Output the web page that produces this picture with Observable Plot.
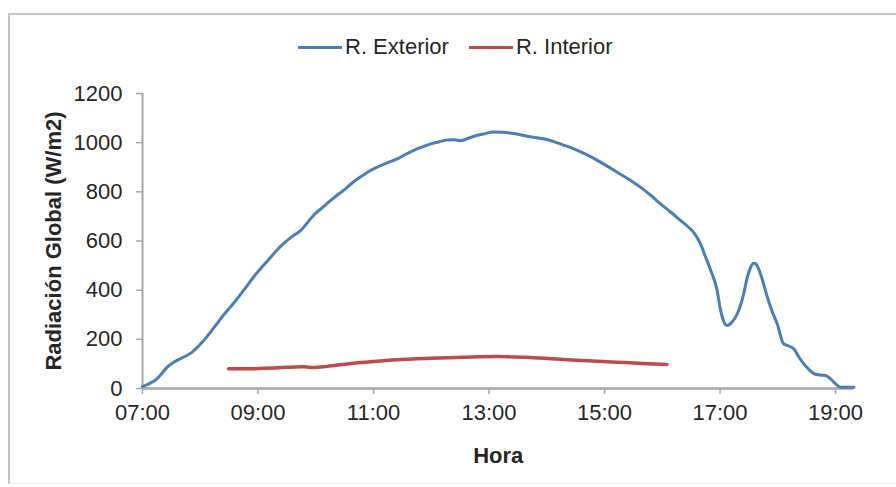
<!DOCTYPE html>
<html>
<head>
<meta charset="utf-8">
<script src="https://cdn.jsdelivr.net/npm/d3@7"></script>
<script src="https://cdn.jsdelivr.net/npm/@observablehq/plot@0.6"></script>
<style>
  html, body { margin: 0; padding: 0; background: #fff; overflow: hidden; }
  #wrap { position: relative; width: 896px; height: 487px; font-family: "Liberation Sans", Arial, sans-serif; }
  #frame { position: absolute; left: 8px; top: 13px; width: 900px; height: 468px;
           border-top: 2px solid #c4c4c4; border-left: 2px solid #c4c4c4; border-bottom: 1px solid #eeeeee; }
  #chart { position: absolute; left: 0; top: 0; }
  #legend { position: absolute; top: 34px; left: 298px; display: flex; align-items: center;
            font-size: 22px; color: #262626; white-space: nowrap; }
  .item { display: flex; align-items: center; margin-right: 20px; }
  .sw { width: 44px; height: 3px; margin-right: 3px; }
</style>
</head>
<body>
<div id="wrap">
  <div id="frame"></div>
  <div id="chart"></div>
  <div id="legend"></div>
</div>
<script>
// Series names and colours
const seriesNames = ["R. Exterior", "R. Interior"];
const seriesColors = ["#4a7ebb", "#be4b48"];

// R. Exterior: hour of day (decimal) and global radiation (W/m2)
const exteriorHora = [7.00,7.12,7.23,7.33,7.43,7.55,7.66,7.76,7.86,7.96,8.06,8.18,8.29,8.40,8.52,8.63,8.75,8.87,8.99,9.10,9.22,9.33,9.44,9.59,9.74,9.85,9.96,10.11,10.26,10.37,10.48,10.62,10.77,10.91,11.06,11.24,11.41,11.55,11.69,11.84,11.99,12.14,12.28,12.40,12.51,12.62,12.73,12.90,13.08,13.25,13.42,13.72,14.06,14.26,14.46,14.70,14.93,15.22,15.42,15.62,15.80,15.97,16.15,16.32,16.45,16.54,16.66,16.75,16.84,16.95,17.00,17.04,17.12,17.20,17.30,17.41,17.47,17.53,17.58,17.62,17.70,17.82,17.90,17.99,18.10,18.20,18.28,18.36,18.45,18.55,18.63,18.73,18.83,18.90,18.97,19.09,19.32];
const exteriorRad  = [8,20,35,60,87,108,122,133,148,170,195,230,264,298,331,362,399,437,473,502,534,563,589,618,643,673,704,735,765,786,806,834,860,882,900,918,934,952,968,982,995,1004,1011,1012,1008,1016,1025,1035,1043,1042,1037,1024,1009,993,976,950,921,880,851,819,786,751,717,683,657,636,589,535,480,399,330,290,256,268,304,385,450,493,510,507,467,371,315,263,182,172,161,130,100,75,60,55,53,42,26,5,5];

// R. Interior
const interiorHora = [8.49,8.80,9.10,9.50,9.80,9.96,10.20,10.54,11.00,11.40,12.00,12.56,13.14,13.72,14.35,14.80,15.22,15.65,16.08];
const interiorRad  = [80,80,82,86,88,85,90,100,110,117,123,127,130,126,117,112,107,102,98];

// Axis ticks
const xTickValues = [7, 9, 11, 13, 15, 17, 19];
const xTickLabels = ["07:00", "09:00", "11:00", "13:00", "15:00", "17:00", "19:00"];
const yTickValues = [0, 200, 400, 600, 800, 1000, 1200];

const exterior = exteriorHora.map((h, i) => ({hora: h, rad: exteriorRad[i], serie: seriesNames[0]}));
const interior = interiorHora.map((h, i) => ({hora: h, rad: interiorRad[i], serie: seriesNames[1]}));

const chart = Plot.plot({
  width: 896,
  height: 487,
  marginLeft: 142,
  marginRight: 42.5,
  marginTop: 93,
  marginBottom: 99,
  style: {fontFamily: "'Liberation Sans', Arial, sans-serif", fontSize: "22px", color: "#262626", background: "transparent"},
  x: {domain: [7, 19.32]},
  y: {domain: [0, 1200]},
  marks: [
    Plot.axisY({ticks: yTickValues, tickFormat: (d) => String(d), tickSize: 6, tickPadding: 14, label: null, stroke: "#a6a6a6", strokeWidth: 1.5, fill: "#262626"}),
    Plot.axisX({ticks: xTickValues, tickFormat: (d) => xTickLabels[xTickValues.indexOf(d)], tickSize: 6, tickPadding: 10, label: null, stroke: "#a6a6a6", strokeWidth: 1.5, fill: "#262626"}),
    Plot.ruleY([0], {stroke: "#a6a6a6", strokeWidth: 2.5}),
    Plot.ruleX([7], {stroke: "#a6a6a6", strokeWidth: 2}),
    Plot.line(exterior, {x: "hora", y: "rad", stroke: seriesColors[0], strokeWidth: 3, curve: "monotone-x"}),
    Plot.line(interior, {x: "hora", y: "rad", stroke: seriesColors[1], strokeWidth: 3.5, curve: "monotone-x"}),
    Plot.text(["Hora"], {frameAnchor: "bottom", dy: 67, lineAnchor: "middle", textAnchor: "middle", fontWeight: "bold", fontSize: 22, fill: "#262626"}),
    Plot.text(["Radiación Global (W/m2)"], {frameAnchor: "left", dx: -89, rotate: -90, lineAnchor: "middle", textAnchor: "middle", fontWeight: "bold", fontSize: 22, fill: "#262626"})
  ]
});
document.getElementById("chart").appendChild(chart);

const legend = document.getElementById("legend");
seriesNames.forEach((name, i) => {
  const item = document.createElement("div");
  item.className = "item";
  const sw = document.createElement("div");
  sw.className = "sw";
  sw.style.background = seriesColors[i];
  const label = document.createElement("span");
  label.textContent = name;
  item.appendChild(sw);
  item.appendChild(label);
  legend.appendChild(item);
});
</script>
</body>
</html>
